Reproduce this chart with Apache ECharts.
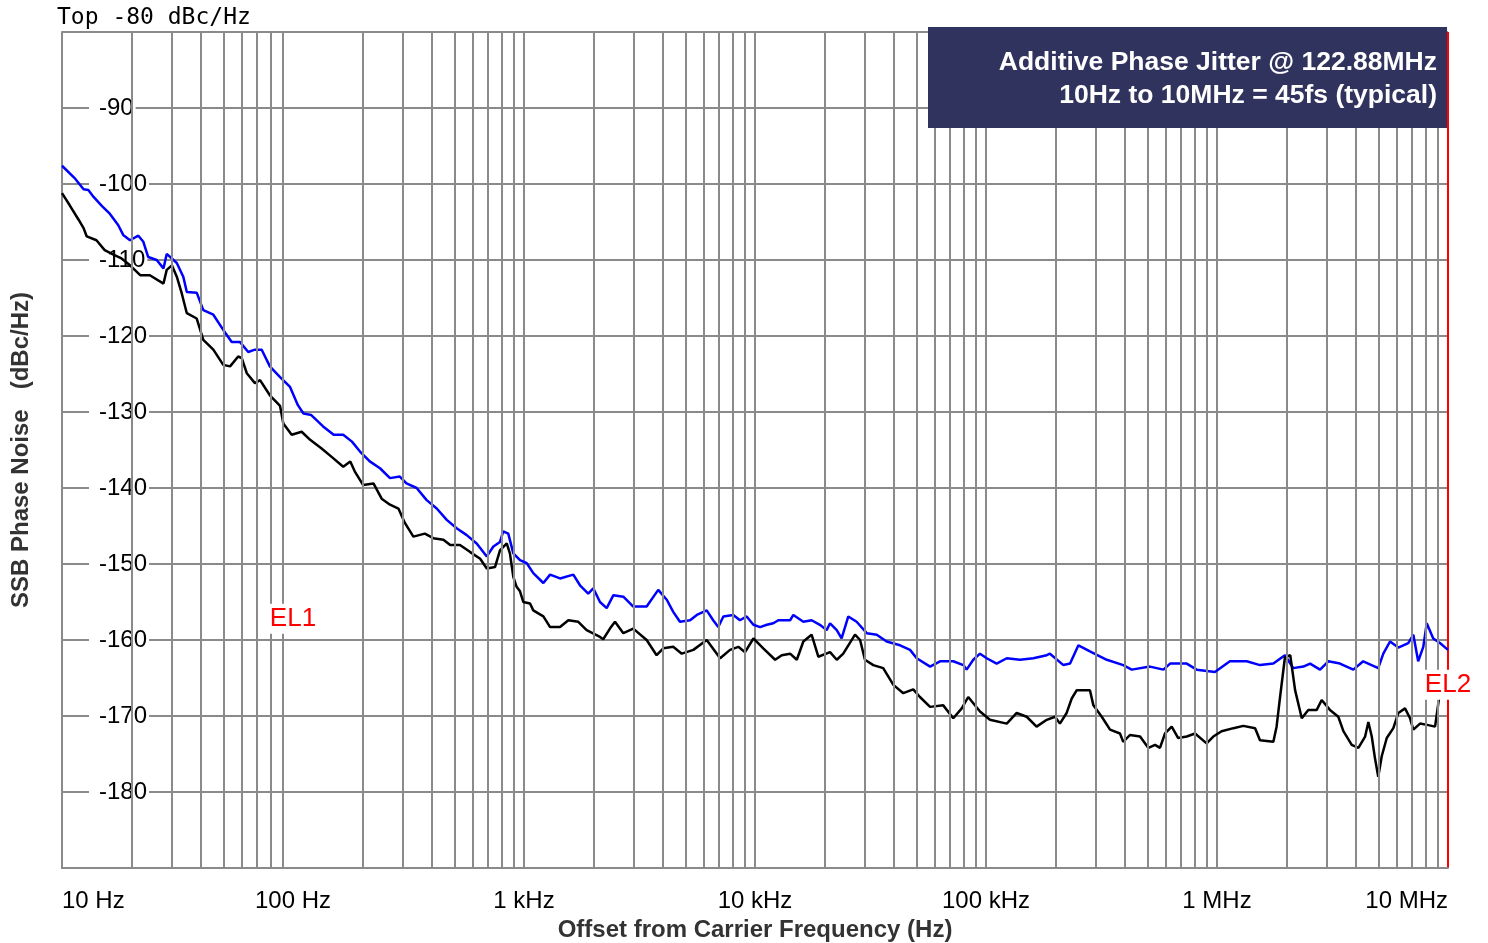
<!DOCTYPE html>
<html>
<head>
<meta charset="utf-8">
<script src="https://cdn.jsdelivr.net/npm/echarts@6/dist/echarts.min.js"></script>
<style>
html,body{margin:0;padding:0;background:#fff;}
#chart{width:1488px;height:943px;}
</style>
</head>
<body>
<div id="chart"></div>
<script>
// ---- tick labels ----
const xTickLabels = ['10 Hz', '100 Hz', '1 kHz', '10 kHz', '100 kHz', '1 MHz', '10 MHz'];
const decadeStarts = [10, 100, 1000, 10000, 100000, 1000000];
const minorMultipliers = [2, 3, 4, 5, 6, 7, 8, 9];

// ---- series: [offset frequency (Hz), SSB phase noise (dBc/Hz)] ----
const blueTrace = [
[10,-97.6],[11.4,-99.3],[12.4,-100.7],[13.0,-100.8],[13.7,-101.7],[14.9,-102.9],[16.1,-103.9],[17.5,-105.4],
[18.4,-106.7],[19.7,-107.4],[21.4,-106.8],[22.5,-107.6],[23.6,-109.6],[25.7,-110],[27.5,-111.1],[28.4,-109.2],
[29.9,-109.8],[31.4,-110.4],[33.5,-112.2],[34.7,-114.2],[38.3,-114.3],[40.9,-116.6],[45.2,-117.2],[49.9,-119.2],
[54.3,-120.8],[59.0,-120.8],[64.0,-122.1],[68.4,-121.8],[73.2,-121.8],[79.4,-124],[87.9,-125.4],[97.1,-126.7],
[105,-129.1],[111,-130.2],[120,-130.4],[135,-131.9],[150,-133],[165,-133],[180,-133.9],[195,-135.2],
[215,-136.5],[238,-137.4],[263,-138.7],[290,-138.5],[310,-139.4],[343,-140],[379,-141.6],[419,-142.7],
[463,-144.2],[511,-145.3],[565,-146.2],[624,-147.3],[690,-149],[737,-147.7],[787,-147.1],[813,-145.7],
[855,-146],[899,-148.6],[961,-149.5],[1028,-149.9],[1097,-151.2],[1213,-152.5],[1297,-151.4],[1432,-151.9],
[1635,-151.4],[1747,-152.8],[1897,-153.9],[1995,-153.2],[2133,-155],[2280,-155.8],[2438,-154.1],[2692,-154.3],
[2972,-155.6],[3396,-155.6],[3811,-153.4],[4150,-154.7],[4426,-156.3],[4732,-157.6],[5236,-157.4],[5598,-156.7],
[6180,-156.1],[6592,-157.4],[6934,-158.3],[7295,-156.9],[8054,-156.7],[8610,-157.4],[9204,-156.9],[9840,-158],
[10520,-158.3],[11250,-158],[12000,-157.8],[12620,-157.4],[14190,-157.4],[14660,-156.7],[16190,-157.6],[17580,-157.4],
[19100,-158],[20420,-158.7],[21130,-157.8],[22590,-158.7],[23710,-159.8],[25350,-156.9],[27540,-157.6],[30460,-159.1],
[33650,-159.3],[37150,-160.2],[42460,-160.7],[46900,-161.3],[50120,-162.4],[57270,-163.5],[63240,-162.8],[72160,-162.8],
[79800,-163.3],[82420,-163.9],[88100,-162.6],[94200,-161.8],[100700,-162.4],[111200,-163.1],[123000,-162.4],[140300,-162.6],
[160300,-162.4],[183200,-162],[189200,-161.8],[216300,-163.3],[231200,-163.1],[251200,-160.7],[281800,-161.5],[333400,-162.6],
[392700,-163.3],[427300,-163.9],[512900,-163.5],[586100,-163.9],[626600,-163.1],[739600,-163.1],[816600,-163.9],[979500,-164.2],
[1137000,-162.8],[1345000,-162.8],[1535000,-163.3],[1754000,-163.1],[1968000,-162],[2138000,-163.7],[2366000,-163.5],[2529000,-163.1],
[2793000,-163.9],[3034000,-162.8],[3405000,-163.1],[3890000,-163.9],[4295000,-162.8],[4989000,-163.7],[5248000,-161.8],[5610000,-160.2],
[6095000,-161],[6730000,-160.4],[7079000,-159.3],[7430000,-162.8],[7816000,-160.9],[8091000,-157.8],[8630000,-159.8],[9226000,-160.4],
[10000000,-161.3]
];

const blackTrace = [
[10,-101.2],[10.8,-102.8],[11.8,-104.7],[12.4,-105.8],[12.8,-106.9],[14.1,-107.4],[15.3,-108.7],[16.7,-109.3],
[18.1,-109.8],[19.7,-110.7],[21.8,-112],[24.0,-112],[27.5,-113.1],[28.4,-111.3],[29.9,-110.7],[31.4,-112.2],
[33.0,-114.4],[34.7,-117],[38.3,-117.7],[40.9,-120.5],[45.2,-121.8],[49.9,-123.8],[53.4,-124],[57.9,-122.7],
[60.0,-122.9],[63.1,-124.9],[68.4,-126.2],[72.0,-125.8],[79.4,-127.8],[87.9,-129.2],[90.8,-131.5],[98.7,-133],
[109,-132.6],[119,-133.7],[133,-134.8],[147,-135.9],[165,-137.2],[177,-136.5],[185,-137.8],[201,-139.6],
[223,-139.4],[242,-141.4],[263,-142.2],[286,-142.7],[305,-144.6],[332,-146.4],[372,-146],[405,-146.6],
[448,-146.8],[479,-147.5],[528,-147.5],[583,-148.4],[646,-149.3],[690,-150.6],[749,-150.4],[787,-148.2],
[842,-147.3],[869,-148.6],[899,-151.7],[929,-153],[961,-153.6],[993,-155],[1062,-155.2],[1097,-156.1],
[1213,-156.9],[1297,-158.3],[1432,-158.3],[1556,-157.4],[1718,-157.6],[1867,-158.7],[2133,-159.6],[2203,-159.9],
[2355,-158.5],[2477,-157.6],[2692,-159.1],[2972,-158.5],[3396,-160],[3750,-162],[4009,-161.1],[4426,-160.9],
[4819,-161.8],[5408,-161.3],[6180,-160],[7063,-162.4],[7798,-161.3],[8472,-160.9],[9057,-161.6],[9840,-159.8],
[10860,-161.1],[12220,-162.6],[13060,-162],[14190,-161.8],[15170,-162.6],[16190,-160.2],[17580,-159.3],[18800,-162.2],
[21130,-161.6],[22590,-162.6],[24100,-161.8],[27100,-159.3],[28510,-160],[29920,-162.6],[32510,-163.3],[35890,-163.7],
[39720,-165.9],[43850,-167],[48420,-166.5],[51760,-167.5],[57270,-168.8],[65310,-168.6],[72160,-170.3],[78520,-169],
[83760,-167.5],[94200,-169.4],[104000,-170.5],[123000,-171],[135800,-169.6],[150000,-170.1],[165600,-171.4],[183200,-170.5],
[199100,-170.1],[208900,-171],[223400,-169.6],[235000,-167.7],[247200,-166.6],[281800,-166.6],[291700,-168.6],[317000,-170.1],
[344400,-171.8],[380200,-172.3],[392700,-173.4],[419800,-172.5],[464500,-172.7],[504700,-174.2],[539500,-173.8],[566200,-174.2],
[595700,-172.3],[636800,-171.4],[679200,-172.9],[739600,-172.7],[803500,-172.3],[901500,-173.6],[963800,-172.7],[1047000,-172],
[1178000,-171.6],[1300000,-171.3],[1462000,-171.6],[1535000,-173.2],[1754000,-173.4],[1811000,-171.4],[1875000,-167.5],[1968000,-162.3],
[2075000,-162],[2178000,-166.6],[2328000,-170.3],[2484000,-169.2],[2703000,-169.2],[2839000,-167.9],[3083000,-169.2],[3350000,-170.1],
[3525000,-172],[3831000,-173.8],[4093000,-174.2],[4377000,-172.7],[4521000,-170.8],[4677000,-172.7],[4831000,-175.6],[4989000,-178],
[5166000,-175.3],[5431000,-172.9],[5799000,-171.6],[6095000,-169.6],[6516000,-169],[6849000,-170.3],[7079000,-171.8],[7568000,-171],
[8222000,-171.2],[8790000,-171.4],[8933000,-169.9],[9226000,-166.8],[9936000,-164.6]
];

// ---- markers ----
const markerLabels = [
  { name: 'EL1', freq: 100, db: -157.2 },
  { name: 'EL2', freq: 10000000, db: -165.9 }
];
const infoLines = ['Additive Phase Jitter @ 122.88MHz', '10Hz to 10MHz = 45fs (typical)'];

const minorFreqs = [];
decadeStarts.forEach(d => minorMultipliers.forEach(m => minorFreqs.push(d * m)));

const GRID = '#8a8a8a';
// decade split lines: 10 Hz, 100 Hz (hidden in reference), 1k, 10k, 100k, 1M, 10 MHz (red EL2 line)
const xSplitColors = [GRID, 'rgba(0,0,0,0)', GRID, GRID, GRID, GRID, '#ff0000'];
const FONT = '"Liberation Sans", Arial, Helvetica, sans-serif';

const chart = echarts.init(document.getElementById('chart'), null, { renderer: 'canvas' });
chart.setOption({
  animation: false,
  backgroundColor: '#ffffff',
  title: {
    text: 'Top -80 dBc/Hz',
    left: 57, top: 7, padding: 0,
    textStyle: { fontFamily: '"DejaVu Sans Mono", monospace', fontSize: 23, fontWeight: 'normal', color: '#000' }
  },
  grid: { left: 62, right: 40, top: 32, bottom: 75, containLabel: false, outerBoundsMode: 'none' },
  xAxis: {
    type: 'log', logBase: 10, min: 10, max: 10000000,
    axisLine: { show: true, lineStyle: { color: GRID, width: 2 } },
    axisTick: { show: false },
    splitLine: { show: true, lineStyle: { color: xSplitColors, width: 2 } },
    axisLabel: {
      fontFamily: FONT, fontSize: 24, color: '#000', margin: 21,
      alignMinLabel: 'left', alignMaxLabel: 'right',
      formatter: v => xTickLabels[Math.round(Math.log10(v)) - 1]
    },
    name: 'Offset from Carrier Frequency (Hz)',
    nameLocation: 'middle', nameGap: 50,
    nameTextStyle: { fontFamily: FONT, fontSize: 24, fontWeight: 'bold', color: '#333' }
  },
  yAxis: {
    type: 'value', min: -190, max: -80, interval: 10,
    axisLine: { show: true, lineStyle: { color: GRID, width: 2 } },
    axisTick: { show: false },
    splitLine: { show: true, lineStyle: { color: GRID, width: 2 } },
    axisLabel: {
      inside: true, margin: 27, showMinLabel: false, showMaxLabel: false,
      fontFamily: FONT, fontSize: 24, color: '#000',
      backgroundColor: '#ffffff', padding: [6, 2, 6, 10]
    },
    name: 'SSB Phase Noise   (dBc/Hz)',
    nameLocation: 'middle', nameGap: 29,
    nameTextStyle: { fontFamily: FONT, fontSize: 24, fontWeight: 'bold', color: '#333' }
  },
  series: [
    {
      name: 'minorGrid', type: 'line', data: [], z: -1, silent: true,
      markLine: {
        silent: true, animation: false, symbol: ['none', 'none'],
        label: { show: false },
        emphasis: { disabled: true },
        lineStyle: { color: GRID, width: 2, type: 'solid' },
        data: minorFreqs.map(f => ({ xAxis: f }))
      }
    },
    {
      name: 'markers', type: 'line', data: [], z: 1, silent: true,
      markPoint: {
        silent: true, animation: false,
        symbol: 'circle', symbolSize: 1,
        itemStyle: { color: 'rgba(0,0,0,0)' },
        label: {
          show: true, position: 'inside', formatter: '{b}',
          fontFamily: FONT, fontSize: 26, color: '#ff0000',
          backgroundColor: '#ffffff', padding: [2, 1, 2, 1]
        },
        data: markerLabels.map(m => ({ name: m.name, coord: [m.freq, m.db] }))
      }
    },
    {
      name: 'Blue', type: 'line', z: 2, showSymbol: false, symbol: 'none',
      lineStyle: { color: '#0000ff', width: 2.5 },
      data: blueTrace
    },
    {
      name: 'Black', type: 'line', z: 3, showSymbol: false, symbol: 'none',
      lineStyle: { color: '#000000', width: 2.5 },
      data: blackTrace
    }
  ],
  graphic: [
    { type: 'rect', z: 100, shape: { x: 928, y: 27, width: 519, height: 101 }, style: { fill: '#31335f' } },
    { type: 'text', z: 101, x: 1437, y: 63, style: { text: infoLines[0], fill: '#ffffff', fontFamily: FONT, fontSize: 26.5, fontWeight: 'bold', align: 'right', verticalAlign: 'middle' } },
    { type: 'text', z: 101, x: 1437, y: 96, style: { text: infoLines[1], fill: '#ffffff', fontFamily: FONT, fontSize: 26.5, fontWeight: 'bold', align: 'right', verticalAlign: 'middle' } }
  ]
});
</script>
</body>
</html>
